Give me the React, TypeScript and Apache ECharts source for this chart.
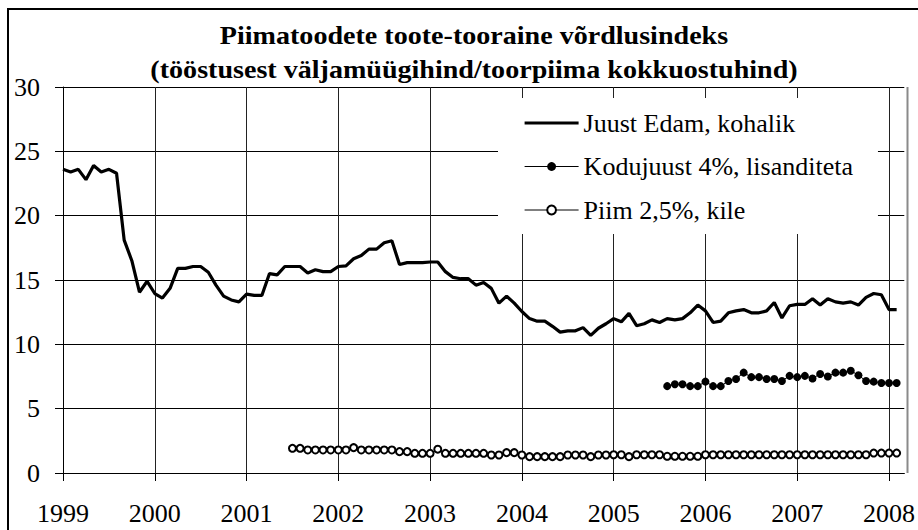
import React, { useEffect, useRef } from "react";
import * as echarts from "echarts";

const years = [1999, 2000, 2001, 2002, 2003, 2004, 2005, 2006, 2007, 2008];
const monthsInLastYear = 3; // Jan–Mar 2008 on the axis
const titleLines = [
  "Piimatoodete toote-tooraine võrdlusindeks",
  "(tööstusest väljamüügihind/toorpiima kokkuostuhind)",
];
const seriesNames = ["Juust Edam, kohalik", "Kodujuust 4%, lisanditeta", "Piim 2,5%, kile"];

// Juust Edam, kohalik — monthly from 1999-01
const juust = [
  23.6, 23.4, 23.6, 22.8, 23.9, 23.4, 23.6, 23.3, 18.1, 16.5, 14.05, 14.9,
  13.95, 13.6, 14.35, 15.9, 15.9, 16.05, 16.05, 15.6, 14.6, 13.75, 13.45, 13.3,
  13.9, 13.8, 13.8, 15.5, 15.4, 16.05, 16.05, 16.05, 15.55, 15.8, 15.65, 15.65,
  16.05, 16.1, 16.65, 16.9, 17.4, 17.4, 17.9, 18.05, 16.2, 16.35, 16.35, 16.35,
  16.4, 16.4, 15.65, 15.2, 15.1, 15.1, 14.6, 14.8, 14.35, 13.2, 13.75, 13.2,
  12.55, 12.0, 11.8, 11.8, 11.4, 10.95, 11.05, 11.05, 11.3, 10.7, 11.25, 11.6,
  12.0, 11.75, 12.4, 11.45, 11.6, 11.9, 11.7, 12.0, 11.9, 12.0, 12.45, 13.05,
  12.6, 11.7, 11.8, 12.45, 12.6, 12.7, 12.45, 12.45, 12.6, 13.25, 12.05, 13.0,
  13.1, 13.1, 13.55, 13.05, 13.55, 13.3, 13.2, 13.3, 13.05, 13.65, 13.95, 13.85,
  12.7, 12.7,
];
const juustStart = "1999-01";

// Kodujuust 4%, lisanditeta — monthly from 2005-08
const kodujuust = [
  6.75, 6.9, 6.9, 6.75, 6.75,
  7.1, 6.75, 6.75, 7.15, 7.3, 7.8, 7.45, 7.45, 7.3, 7.3, 7.15, 7.55,
  7.45, 7.55, 7.35, 7.7, 7.5, 7.8, 7.8, 7.95, 7.6, 7.15, 7.1, 7.0,
  7.0, 7.0,
];
const kodujuustStart = "2005-08";

// Piim 2,5%, kile — monthly from 2001-07
const piim = [
  1.92, 1.92, 1.79, 1.79, 1.79, 1.79,
  1.79, 1.79, 1.97, 1.79, 1.79, 1.79, 1.79, 1.79, 1.66, 1.66, 1.53, 1.53,
  1.53, 1.85, 1.53, 1.53, 1.53, 1.53, 1.53, 1.53, 1.4, 1.4, 1.58, 1.58,
  1.4, 1.27, 1.27, 1.27, 1.27, 1.27, 1.4, 1.4, 1.4, 1.27, 1.4, 1.4,
  1.42, 1.42, 1.27, 1.42, 1.42, 1.42, 1.42, 1.3, 1.3, 1.3, 1.3, 1.3,
  1.42, 1.42, 1.42, 1.42, 1.42, 1.42, 1.42, 1.42, 1.42, 1.42, 1.42, 1.42,
  1.42, 1.42, 1.42, 1.42, 1.42, 1.42, 1.42, 1.42, 1.42, 1.42, 1.55, 1.55,
  1.55, 1.55,
];
const piimStart = "2001-07";

const yTicks = { min: 0, max: 30, interval: 5 };

const months: string[] = [];
years.forEach((y) => {
  const n = y === years[years.length - 1] ? monthsInLastYear : 12;
  for (let m = 1; m <= n; m++) months.push(`${y}-${String(m).padStart(2, "0")}`);
});

function place(values: number[], start: string) {
  const off = months.indexOf(start);
  return months.map((_, i) => {
    const k = i - off;
    return k >= 0 && k < values.length ? values[k] : null;
  });
}

const FONT = "Liberation Serif";

export default function App() {
  const ref = useRef<HTMLDivElement>(null);
  useEffect(() => {
    if (!ref.current) return;
    const chart = echarts.init(ref.current, undefined, { renderer: "svg" });
    chart.setOption({
      animation: false,
      backgroundColor: "#fff",
      grid: { left: 63, right: 10.5, top: 87, bottom: 57, containLabel: false },
      graphic: [
        {
          type: "rect",
          silent: true,
          shape: { x: 8, y: 9, width: 1000, height: 1000 },
          style: { fill: "none", stroke: "#000", lineWidth: 2 },
        },
        {
          type: "text",
          x: 474,
          y: 35,
          scaleX: 1.08,
          silent: true,
          style: {
            text: titleLines[0],
            fontFamily: FONT,
            fontWeight: "bold",
            fontSize: 26,
            fill: "#000",
            align: "center",
            verticalAlign: "middle",
          },
        },
        {
          type: "text",
          x: 474,
          y: 69,
          scaleX: 1.08,
          silent: true,
          style: {
            text: titleLines[1],
            fontFamily: FONT,
            fontWeight: "bold",
            fontSize: 26,
            fill: "#000",
            align: "center",
            verticalAlign: "middle",
          },
        },
        {
          type: "line",
          silent: true,
          shape: { x1: 907.5, y1: 87, x2: 907.5, y2: 473 },
          style: { stroke: "#8a8a8a", lineWidth: 2 },
        },
      ],
      legend: {
        orient: "vertical",
        left: 498,
        top: 98,
        padding: [12, 25, 11, 25],
        backgroundColor: "#fff",
        itemWidth: 54,
        itemHeight: 11,
        itemGap: 17.5,
        selectedMode: false,
        data: [
          { name: seriesNames[0], itemStyle: { opacity: 0 }, lineStyle: { width: 3.2 } },
          { name: seriesNames[1], lineStyle: { width: 1 } },
          { name: seriesNames[2], lineStyle: { width: 1 } },
        ],
        textStyle: { fontFamily: FONT, fontSize: 26, color: "#000" },
      },
      xAxis: {
        type: "category",
        data: months,
        boundaryGap: false,
        axisLine: { lineStyle: { color: "#000", width: 1 } },
        axisTick: { interval: 11, length: 8, lineStyle: { color: "#000" } },
        axisLabel: {
          interval: 11,
          margin: 27,
          fontFamily: FONT,
          fontSize: 26,
          color: "#000",
          formatter: (v: string) => v.slice(0, 4),
        },
        splitLine: { show: true, interval: 11, lineStyle: { color: "#222", width: 1 } },
      },
      yAxis: {
        type: "value",
        min: yTicks.min,
        max: yTicks.max,
        interval: yTicks.interval,
        axisLine: { show: true, lineStyle: { color: "#000", width: 1 } },
        axisTick: { show: true, length: 8, lineStyle: { color: "#000" } },
        axisLabel: { margin: 23, fontFamily: FONT, fontSize: 26, color: "#000" },
        splitLine: { show: true, lineStyle: { color: "#000", width: 1 } },
      },
      series: [
        {
          name: seriesNames[0],
          type: "line",
          data: place(juust, juustStart),
          symbol: "none",
          lineStyle: { color: "#000", width: 3.2 },
          itemStyle: { color: "#000" },
          silent: true,
        },
        {
          name: seriesNames[1],
          type: "line",
          data: place(kodujuust, kodujuustStart),
          symbol: "circle",
          symbolSize: 8,
          showAllSymbol: true,
          lineStyle: { color: "#000", width: 1 },
          itemStyle: { color: "#000" },
          silent: true,
        },
        {
          name: seriesNames[2],
          type: "line",
          data: place(piim, piimStart),
          symbol: "emptyCircle",
          symbolSize: 7,
          showAllSymbol: true,
          lineStyle: { color: "#000", width: 1 },
          itemStyle: { color: "#000", borderWidth: 1 },
          silent: true,
        },
      ],
    });
    return () => chart.dispose();
  }, []);
  return (
    <div
      ref={ref}
      style={{ position: "fixed", left: 0, top: 0, width: 918, height: 530 }}
    />
  );
}
